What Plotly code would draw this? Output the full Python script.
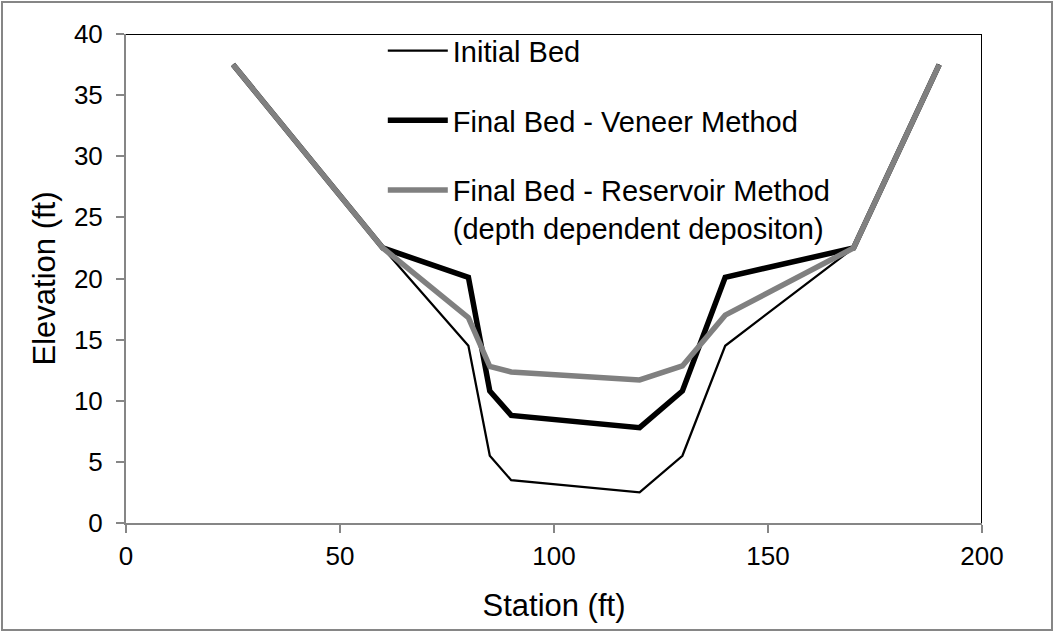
import plotly.graph_objects as go

station = [25, 60, 80, 85, 90, 120, 130, 140, 170, 190]
initial_bed = [37.5, 22.5, 14.5, 5.5, 3.5, 2.5, 5.5, 14.5, 22.5, 37.5]
veneer_bed = [37.5, 22.5, 20.1, 10.8, 8.8, 7.8, 10.8, 20.1, 22.5, 37.5]
reservoir_bed = [37.5, 22.5, 16.8, 12.8, 12.35, 11.7, 12.85, 17.0, 22.5, 37.5]

names = ["Initial Bed", "Final Bed - Veneer Method",
         "Final Bed - Reservoir Method<br>(depth dependent depositon)"]

FONT = "Liberation Sans, Arial, sans-serif"
AXC = "#868686"

fig = go.Figure()
fig.add_trace(go.Scatter(x=station, y=initial_bed, mode="lines", name=names[0],
                         line=dict(color="black", width=2.25), legendgroup="a"))
fig.add_trace(go.Scatter(x=station, y=veneer_bed, mode="lines", name=names[1],
                         line=dict(color="black", width=5.5), legendgroup="b"))
fig.add_trace(go.Scatter(x=station, y=reservoir_bed, mode="lines", name=names[2],
                         line=dict(color="#808080", width=5.5), legendgroup="c"))

fig.update_layout(
    width=1055, height=633,
    margin=dict(l=126, r=73, t=34, b=110),
    paper_bgcolor="white", plot_bgcolor="white",
    font=dict(family=FONT, color="black"),
    showlegend=True,
    legend=dict(x=0.30, y=1.018, xanchor="left", yanchor="top",
                bgcolor="rgba(255,255,255,0)", font=dict(size=29, family=FONT),
                valign="top", tracegroupgap=29, itemwidth=60,
                traceorder="grouped"),
    xaxis=dict(range=[0, 200], tickvals=[0, 50, 100, 150, 200], automargin=False,
               showgrid=False, zeroline=False, showline=True, linecolor=AXC, linewidth=2,
               ticks="outside", ticklen=8, tickwidth=2, tickcolor=AXC,
               tickfont=dict(size=26, family=FONT, color="black"),
               ticklabelstandoff=1,
               title=dict(text="Station (ft)", font=dict(size=31, family=FONT), standoff=24)),
    yaxis=dict(range=[0, 40], tickvals=[0, 5, 10, 15, 20, 25, 30, 35, 40], automargin=False,
               showgrid=False, zeroline=False, showline=True, linecolor=AXC, linewidth=2,
               ticks="outside", ticklen=8, tickwidth=2, tickcolor=AXC,
               tickfont=dict(size=26, family=FONT, color="black"),
               ticklabelstandoff=8,
               title=dict(text="Elevation (ft)", font=dict(size=31, family=FONT), standoff=9)),
    shapes=[
        dict(type="line", xref="x", yref="y", x0=0, x1=200, y0=40, y1=40,
             line=dict(color="black", width=2), layer="above"),
        dict(type="line", xref="x", yref="y", x0=200, x1=200, y0=0, y1=40,
             line=dict(color="black", width=2), layer="above"),
        dict(type="rect", xref="paper", yref="paper",
             x0=(2 - 126) / 856, x1=(1052 - 126) / 856,
             y0=(523 - 630) / 489, y1=(523 - 2) / 489,
             line=dict(color=AXC, width=2), layer="below"),
    ],
)

fig.write_html("out.html", config={"displayModeBar": False},
               post_script="document.body.style.margin='0';")
